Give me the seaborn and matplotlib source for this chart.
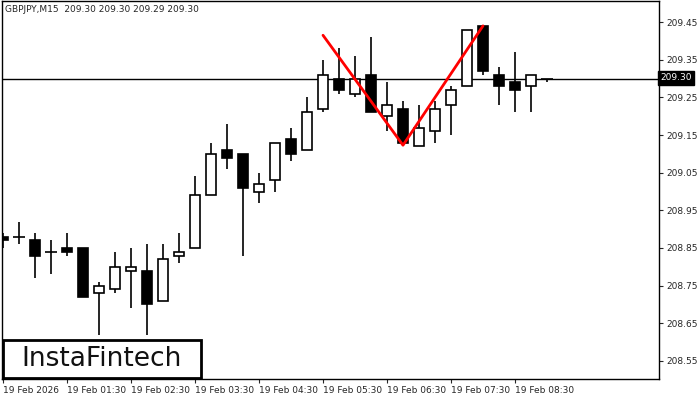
import numpy as np
import pandas as pd
import matplotlib
matplotlib.use('Agg')
import matplotlib.pyplot as plt
import seaborn as sns

# -------------------------------
# Candle data
# -------------------------------
opens = [208.88, 208.88, 208.87, 208.84, 208.85, 208.85, 208.73, 208.74, 208.79, 208.79,
         208.71, 208.83, 208.85, 208.99, 209.11, 209.10, 209.00, 209.03, 209.14, 209.11,
         209.22, 209.30, 209.26, 209.31, 209.20, 209.22, 209.12, 209.16, 209.23, 209.28,
         209.44, 209.31, 209.29, 209.28, 209.30]
highs = [208.89, 208.92, 208.89, 208.87, 208.89, 208.85, 208.76, 208.84, 208.85, 208.86,
         208.86, 208.89, 209.04, 209.13, 209.18, 209.10, 209.05, 209.13, 209.17, 209.25,
         209.35, 209.38, 209.36, 209.41, 209.29, 209.24, 209.23, 209.24, 209.28, 209.43,
         209.44, 209.33, 209.37, 209.31, 209.30]
lows = [208.85, 208.86, 208.77, 208.78, 208.83, 208.72, 208.62, 208.73, 208.69, 208.62,
        208.71, 208.81, 208.85, 208.99, 209.06, 208.83, 208.97, 209.00, 209.08, 209.11,
        209.21, 209.26, 209.25, 209.21, 209.16, 209.12, 209.12, 209.13, 209.15, 209.28,
        209.31, 209.23, 209.21, 209.21, 209.29]
closes = [208.87, 208.88, 208.83, 208.84, 208.84, 208.72, 208.75, 208.80, 208.80, 208.70,
          208.82, 208.84, 208.99, 209.10, 209.09, 209.01, 209.02, 209.13, 209.10, 209.21,
          209.31, 209.27, 209.30, 209.21, 209.23, 209.13, 209.17, 209.22, 209.27, 209.43,
          209.32, 209.28, 209.27, 209.31, 209.30]

# double top pattern (candle index, price)
pattern_x = [20, 25, 30]
pattern_y = [209.415, 209.123, 209.44]

price_ticks = [209.45, 209.35, 209.25, 209.15, 209.05, 208.95, 208.85, 208.75, 208.65, 208.55]
time_labels = ['19 Feb 2026', '19 Feb 01:30', '19 Feb 02:30', '19 Feb 03:30', '19 Feb 04:30',
               '19 Feb 05:30', '19 Feb 06:30', '19 Feb 07:30', '19 Feb 08:30']
last_price = 209.30

df = pd.DataFrame({'open': opens, 'high': highs, 'low': lows, 'close': closes})
df['idx'] = np.arange(len(df))

sns.set_style('white')
plt.rcParams['font.family'] = ['DejaVu Sans']

fig = plt.figure(figsize=(7, 4), dpi=100)
ax = fig.add_axes([2/700, 21/400, 657/700, 378/400])

# wicks
ax.vlines(df['idx'], df['low'], df['high'], color='black', lw=1.2, zorder=2)
# bodies
for _, r in df.iterrows():
    bottom = min(r['open'], r['close'])
    h = abs(r['close'] - r['open'])
    face = 'white' if r['close'] >= r['open'] else 'black'
    if h < 0.003:
        ax.hlines(r['open'], r['idx'] - 0.35, r['idx'] + 0.35, color='black', lw=1.2, zorder=3)
    else:
        ax.bar(r['idx'], h, bottom=bottom, width=0.62, facecolor=face,
               edgecolor='black', lw=1.2, zorder=3)

# current price line
ax.axhline(last_price, color='black', lw=1, zorder=1)

# pattern lines
sns.lineplot(x=pattern_x, y=pattern_y, ax=ax, color='red', lw=2, zorder=4)

ax.set_xlim(-0.0625, 41.0)
ax.set_ylim(208.502, 209.506)

ax.yaxis.tick_right()
ax.set_yticks(price_ticks)
ax.set_yticklabels([f'{v:.2f}' for v in price_ticks], fontsize=6.5)
ax.tick_params(axis='y', length=3, pad=2, direction='out')
ax.set_xticks(np.arange(0, 33, 4))
ax.set_xticklabels(time_labels, fontsize=6.5, ha='left')
ax.tick_params(axis='x', length=3, pad=2, direction='out')
for lbl in ax.get_xticklabels():
    lbl.set_x(lbl.get_position()[0])
ax.tick_params(left=False, bottom=True, right=True)
for s in ax.spines.values():
    s.set_color('black')
    s.set_linewidth(1)

ax.text(660/700, (400 - 78)/400, f'{last_price:.2f}', transform=fig.transFigure,
        fontsize=6.5, color='white', va='center', ha='left',
        bbox=dict(facecolor='black', edgecolor='black', pad=1.5))
ax.text(5/700, 1 - 10/400, 'GBPJPY,M15  209.30 209.30 209.29 209.30',
        transform=fig.transFigure, fontsize=6.5, va='center', ha='left')

# logo
fig.patches.append(plt.Rectangle((3/700, 22/400), 198/700, 38/400, transform=fig.transFigure,
                                 facecolor='white', edgecolor='black', lw=2, zorder=10))
fig.text(102/700, 41/400, 'InstaFintech', fontsize=19, ha='center', va='center',
         color='#111111', zorder=11)

fig.savefig('out.png', dpi=100)
